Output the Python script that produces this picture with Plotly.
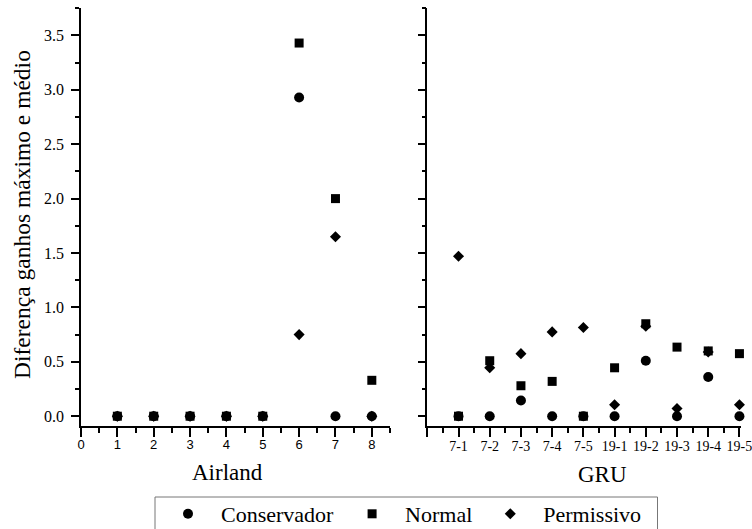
import plotly.graph_objects as go

# ---- data ----
airland_x = [1, 2, 3, 4, 5, 6, 7, 8]
airland_conservador = [0, 0, 0, 0, 0, 2.93, 0, 0]
airland_normal = [0, 0, 0, 0, 0, 3.43, 2.0, 0.33]
airland_permissivo = [0, 0, 0, 0, 0, 0.75, 1.65, 0]

gru_labels = ["7-1", "7-2", "7-3", "7-4", "7-5", "19-1", "19-2", "19-3", "19-4", "19-5"]
gru_conservador = [0, 0, 0.145, 0, 0, 0, 0.51, 0, 0.36, 0]
gru_normal = [0, 0.51, 0.28, 0.32, 0, 0.445, 0.85, 0.635, 0.60, 0.575]
gru_permissivo = [1.47, 0.445, 0.575, 0.775, 0.815, 0.105, 0.826, 0.07, 0.59, 0.105]

series_names = ["Conservador", "Normal", "Permissivo"]
symbols = ["circle", "square", "diamond"]
sizes = [10, 9, 8.5]

gru_x = list(range(1, len(gru_labels) + 1))

fig = go.Figure()
left = [airland_conservador, airland_normal, airland_permissivo]
right = [gru_conservador, gru_normal, gru_permissivo]
for i, name in enumerate(series_names):
    fig.add_trace(go.Scatter(x=airland_x, y=left[i], mode="markers", name=name, cliponaxis=False,
                             marker=dict(symbol=symbols[i], size=sizes[i], color="black"),
                             xaxis="x", yaxis="y", showlegend=True))
for i, name in enumerate(series_names):
    fig.add_trace(go.Scatter(x=gru_x, y=right[i], mode="markers", name=name, cliponaxis=False,
                             marker=dict(symbol=symbols[i], size=sizes[i], color="black"),
                             xaxis="x2", yaxis="y2", showlegend=False))

SERIF = "Liberation Serif"
W, H = 752, 529
ML, MR, MT, MB = 81, 11, 8, 103
PW = W - ML - MR
PH = H - MT - MB

def px_x(p):
    return (p - ML) / PW

def px_y(p):
    return (H - MB - p) / PH

common_y = dict(range=[-0.09, 3.752], dtick=0.5, tick0=0, showgrid=False, zeroline=False,
                showline=True, linecolor="black", linewidth=1.5, automargin=False,
                ticks="outside", ticklen=8, tickwidth=1.5, tickcolor="black",
                minor=dict(dtick=0.25, tick0=0, ticks="outside", ticklen=4, tickwidth=1.5, tickcolor="black"))

fig.update_layout(
    width=W, height=H,
    margin=dict(l=ML, r=MR, t=MT, b=MB, autoexpand=False),
    plot_bgcolor="white", paper_bgcolor="white",
    xaxis=dict(domain=[0, px_x(390)], range=[0, 8.5], dtick=1, tick0=0, showgrid=False, zeroline=False,
               showline=True, linecolor="black", linewidth=1.5, automargin=False,
               ticks="outside", ticklen=9, tickwidth=1.5, tickcolor="black", ticklabelstandoff=-3,
               minor=dict(dtick=0.5, tick0=0, ticks="outside", ticklen=5, tickwidth=1.5, tickcolor="black"),
               tickfont=dict(family="Liberation Sans", size=13, color="black"), anchor="y"),
    yaxis=dict(domain=[0, 1], anchor="x", tickformat=".1f", ticklabelstandoff=4,
               tickfont=dict(family=SERIF, size=16, color="black"), **common_y),
    xaxis2=dict(domain=[px_x(427.3), 1], range=[0, 10.05], showgrid=False, zeroline=False,
                tickvals=[0] + gru_x, ticktext=[""] + gru_labels, ticklabeloverflow="allow",
                showline=True, linecolor="black", linewidth=1.5, automargin=False,
                ticks="outside", ticklen=9, tickwidth=1.5, tickcolor="black", ticklabelstandoff=-3,
                minor=dict(dtick=0.5, tick0=0, ticks="outside", ticklen=5, tickwidth=1.5, tickcolor="black"),
                tickfont=dict(family=SERIF, size=14, color="black"), anchor="y2"),
    yaxis2=dict(domain=[0, 1], anchor="x2", showticklabels=False, **common_y),
    legend=dict(orientation="h", x=px_x(155), xanchor="left", y=px_y(493), yanchor="top",
                borderwidth=0, itemwidth=56, bgcolor="rgba(0,0,0,0)",
                font=dict(family=SERIF, size=22, color="black")),
    shapes=[
        dict(type="rect", xref="paper", yref="paper", x0=px_x(155), x1=px_x(657.5),
             y0=px_y(497), y1=px_y(540), line=dict(color="#777", width=1), layer="below"),
    ],
    annotations=[
        dict(text="Airland", x=px_x(227.5), y=px_y(472), xref="paper", yref="paper",
             xanchor="center", yanchor="middle",
             showarrow=False, font=dict(family=SERIF, size=23, color="black")),
        dict(text="GRU", x=px_x(602), y=px_y(474), xref="paper", yref="paper",
             xanchor="center", yanchor="middle",
             showarrow=False, font=dict(family=SERIF, size=23, color="black")),
        dict(text="Diferença ganhos máximo e médio", x=px_x(22), y=px_y(215), xref="paper", yref="paper",
             xanchor="center", yanchor="middle",
             showarrow=False, textangle=-90, font=dict(family=SERIF, size=23.5, color="black")),
    ],
)

fig.write_html("out.html")
